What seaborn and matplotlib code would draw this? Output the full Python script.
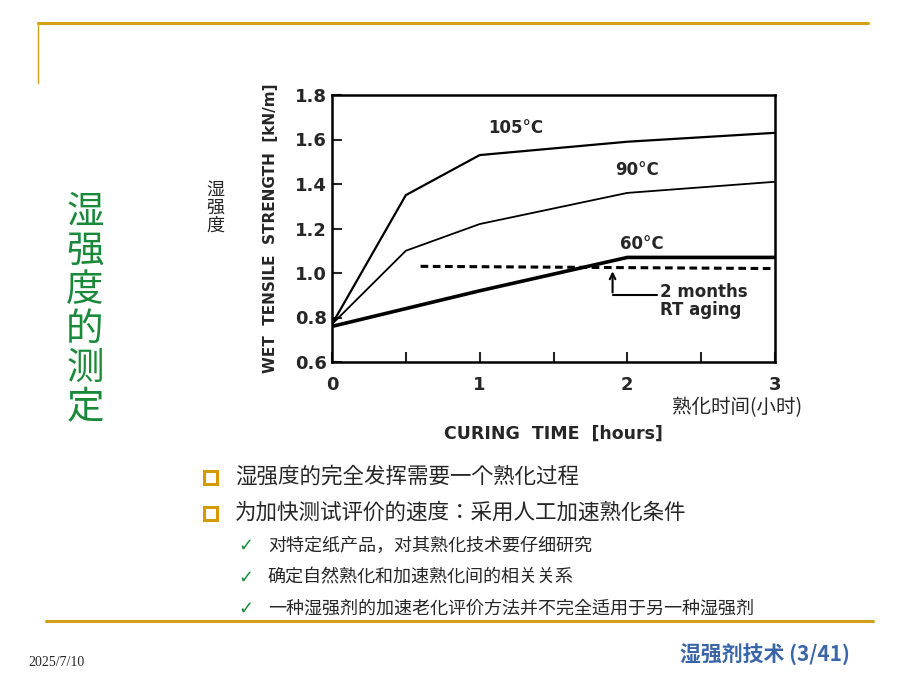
import matplotlib
matplotlib.use("Agg")
import matplotlib.pyplot as plt
import seaborn as sns
import pandas as pd
from matplotlib.lines import Line2D
from matplotlib.patches import Rectangle

CJK = ["Noto Sans CJK SC", "Noto Sans CJK JP", "Noto Sans CJK TC",
       "Noto Sans CJK KR", "DejaVu Sans"]

hours = [0, 0.5, 1, 2, 3]
s105 = [0.77, 1.35, 1.53, 1.59, 1.63]
s90 = [0.77, 1.10, 1.22, 1.36, 1.41]
s60 = [0.76, 0.84, 0.92, 1.07, 1.07]
rt_x = [0.6, 3.0]
rt_y = [1.03, 1.02]
series_names = ["105\u00b0C", "90\u00b0C", "60\u00b0C"]
xticks = [0, 1, 2, 3]
yticks = [0.6, 0.8, 1.0, 1.2, 1.4, 1.6, 1.8]

bullets = ["湿强度的完全发挥需要一个熟化过程",
           "为加快测试评价的速度：采用人工加速熟化条件"]
checks = ["对特定纸产品，对其熟化技术要仔细研究",
          "确定自然熟化和加速熟化间的相关关系",
          "一种湿强剂的加速老化评价方法并不完全适用于另一种湿强剂"]

df = pd.DataFrame({"hours": hours * 3,
                   "strength": s105 + s90 + s60,
                   "series": sum([[n] * len(hours) for n in series_names], [])})

sns.set_style("white")
fig = plt.figure(figsize=(9.2, 6.9), dpi=100)
W, H = 920, 690


def fx(px):
    return px / W


def fy(py):
    return 1 - py / H


gold = "#d4a017"
fig.add_artist(Line2D([fx(38), fx(868)], [fy(23), fy(23)], color=gold, lw=2.2))
fig.add_artist(Line2D([fx(38), fx(38)], [fy(23), fy(83)], color=gold, lw=1))
fig.add_artist(Line2D([fx(46), fx(873)], [fy(621), fy(621)], color=gold, lw=2.2))

ax = fig.add_axes([fx(332), fy(362), fx(775) - fx(332), (362 - 95) / H])
sns.lineplot(data=df, x="hours", y="strength", hue="series", size="series",
             sizes={series_names[0]: 1.6, series_names[1]: 1.3, series_names[2]: 2.6},
             palette=["black"] * 3, legend=False, ax=ax)
ax.plot(rt_x, rt_y, color="black", ls=(0, (2.5, 1.5)), lw=2.2)
ax.annotate("", xy=(1.9, 1.02), xytext=(1.9, 0.9),
            arrowprops=dict(arrowstyle="->", color="black", lw=1.5))
ax.plot([1.9, 2.2], [0.9, 0.9], color="black", lw=1.5)
ax.text(2.22, 0.915, "2 months", fontsize=12, fontweight="bold", va="center")
ax.text(2.22, 0.835, "RT aging", fontsize=12, fontweight="bold", va="center")
ax.text(1.06, 1.63, series_names[0], fontsize=12, fontweight="bold")
ax.text(1.92, 1.44, series_names[1], fontsize=12, fontweight="bold")
ax.text(1.95, 1.11, series_names[2], fontsize=12, fontweight="bold")

ax.set_xlim(0, 3)
ax.set_ylim(0.6, 1.8)
ax.set_xticks(xticks)
ax.set_xticks([0.5, 1.5, 2.5], minor=True)
ax.set_yticks(yticks)
ax.set_yticklabels(["{:.1f}".format(v) for v in yticks])
ax.tick_params(axis="both", which="both", direction="in", labelsize=13,
               length=7, width=1.5, bottom=True, left=True)
ax.tick_params(axis="x", pad=10)
for lab in ax.get_xticklabels() + ax.get_yticklabels():
    lab.set_fontweight("bold")
for sp in ax.spines.values():
    sp.set_linewidth(1.8)
    sp.set_color("black")
ax.set_xlabel("CURING  TIME  [hours]", fontsize=12.5, fontweight="bold", labelpad=22)
ax.set_ylabel("WET  TENSILE  STRENGTH  [kN/m]", fontsize=11, fontweight="bold", labelpad=12)

fig.text(fx(672), fy(408), "熟化时间(小时)", fontsize=14, fontfamily=CJK, va="center")
fig.text(fx(215), fy(208), "湿\n强\n度", fontsize=13, fontfamily=CJK, va="center",
         ha="center", linespacing=1.0)

green = "#1a8a3a"
fig.text(fx(85), fy(310), "\n".join("湿强度的测定"), fontsize=27, fontfamily=CJK,
         color=green, ha="center", va="center", linespacing=1.0)

for i, t in enumerate(bullets):
    yy = 477 + i * 36
    fig.add_artist(Rectangle((fx(204), fy(yy + 7)), fx(13), 13 / H, fill=False,
                             edgecolor="#d49a00", lw=2.2))
    fig.text(fx(235), fy(yy), t, fontsize=15.5, fontfamily=CJK, va="center")
for i, t in enumerate(checks):
    yy = 546 + i * 31.5
    fig.text(fx(238), fy(yy), "\u2713", fontsize=13, color=green, va="center",
             fontfamily="DejaVu Sans")
    fig.text(fx(268), fy(yy), t, fontsize=13, fontfamily=CJK, va="center")

fig.text(fx(28), fy(662), "2025/7/10", fontsize=10, fontfamily="Liberation Serif", va="center")
fig.text(fx(850), fy(655), "湿强剂技术 (3/41)", fontsize=15, fontfamily=CJK,
         color="#3a66a8", fontweight="bold", style="italic", ha="right", va="center")

fig.savefig("out.png", dpi=100)
